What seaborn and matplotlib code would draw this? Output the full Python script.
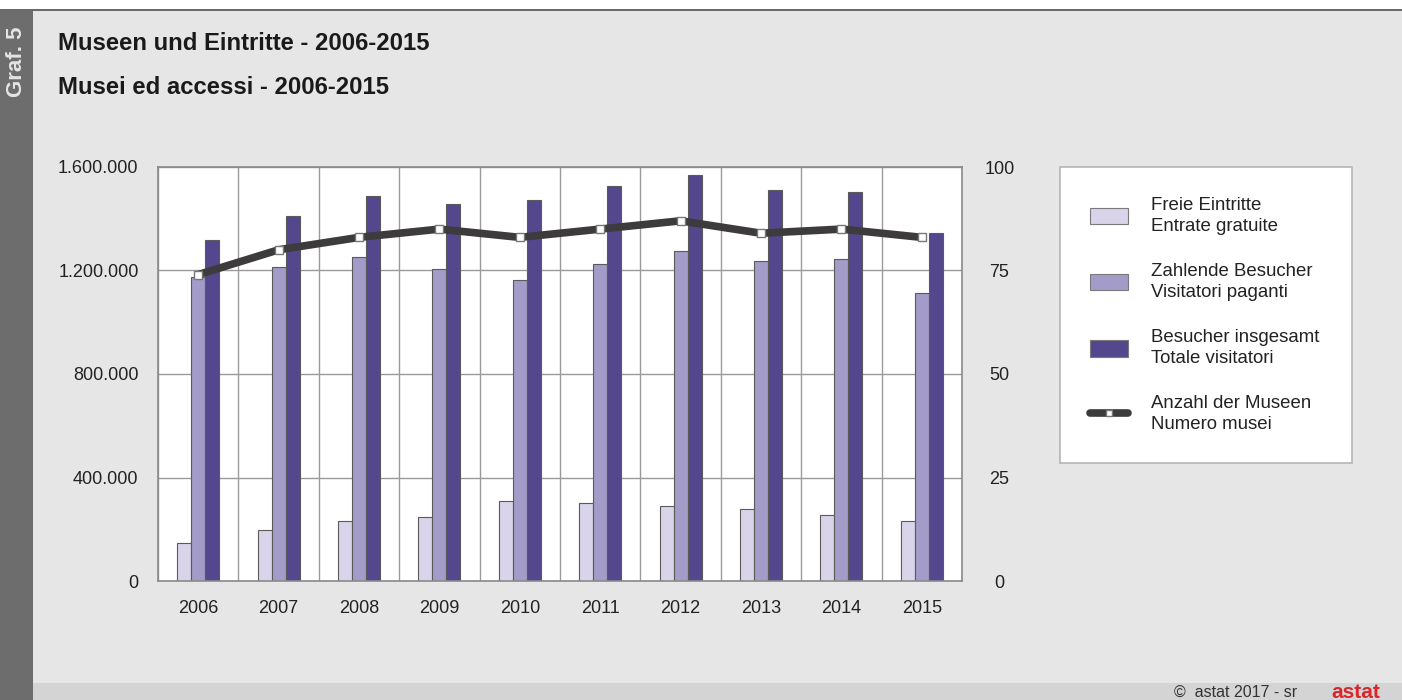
import numpy as np
import pandas as pd
import matplotlib.pyplot as plt
import matplotlib.ticker as mticker
from matplotlib.patches import Rectangle, Patch
from matplotlib.lines import Line2D
import seaborn as sns

# ──────────────────────────────────────────────
# DATA (Graf. 5)
# ──────────────────────────────────────────────
years = ["2006", "2007", "2008", "2009", "2010",
         "2011", "2012", "2013", "2014", "2015"]
free_entries = [146000, 197000, 233000, 246000, 310000,
                300000, 290000, 277000, 256000, 233000]
paying_visitors = [1174000, 1212000, 1254000, 1207000, 1163000,
                   1224000, 1277000, 1236000, 1245000, 1112000]
total_visitors = [1318000, 1412000, 1488000, 1457000, 1474000,
                  1525000, 1568000, 1512000, 1502000, 1344000]
museums = [74, 80, 83, 85, 83, 85, 87, 84, 85, 83]

series_labels = ["Freie Eintritte\nEntrate gratuite",
                 "Zahlende Besucher\nVisitatori paganti",
                 "Besucher insgesamt\nTotale visitatori"]
line_label = "Anzahl der Museen\nNumero musei"

left_ticks = [0, 400000, 800000, 1200000, 1600000]
right_ticks = [0, 25, 50, 75, 100]

BAR_COLORS = ["#d9d4ea", "#a39bc8", "#54478e"]
LINE_COLOR = "#3d3b3b"
BG = "#e6e6e6"

# long-form table for seaborn
df = pd.DataFrame({
    "year": years * 3,
    "series": sum([[s] * len(years) for s in series_labels], []),
    "value": free_entries + paying_visitors + total_visitors,
})

# ──────────────────────────────────────────────
# STYLE
# ──────────────────────────────────────────────
sns.set_theme(style="white")
plt.rcParams["font.family"] = ["Liberation Sans", "DejaVu Sans"]
plt.rcParams["text.color"] = "#222222"

fig = plt.figure(figsize=(14.02, 7.0), dpi=100, facecolor=BG)

# frame decorations: white top strip, dark left strip, bottom band
fig.patches.append(Rectangle((0, 1 - 9 / 700), 1, 9 / 700, transform=fig.transFigure,
                             facecolor="white", edgecolor="none", zorder=0))
fig.patches.append(Rectangle((0, 1 - 11 / 700), 1, 2 / 700, transform=fig.transFigure,
                             facecolor="#6a6a6a", edgecolor="none", zorder=0))
fig.patches.append(Rectangle((0, 0), 33 / 1402, 1 - 11 / 700, transform=fig.transFigure,
                             facecolor="#6d6d6d", edgecolor="none", zorder=0))
fig.patches.append(Rectangle((33 / 1402, 0), 1, 17 / 700, transform=fig.transFigure,
                             facecolor="#d4d4d4", edgecolor="none", zorder=0))

fig.text(17 / 1402, 1 - 62 / 700, "Graf. 5", rotation=90, ha="center", va="center",
         fontsize=16, fontweight="bold", color="#e4e4e4")
fig.text(58 / 1402, 1 - 43 / 700, "Museen und Eintritte - 2006-2015",
         ha="left", va="center", fontsize=17.2, fontweight="bold", color="#1a1a1a")
fig.text(58 / 1402, 1 - 88 / 700, "Musei ed accessi - 2006-2015",
         ha="left", va="center", fontsize=17.2, fontweight="bold", color="#1a1a1a")

# ──────────────────────────────────────────────
# BARS
# ──────────────────────────────────────────────
ax = fig.add_axes([158 / 1402, 119 / 700, 804 / 1402, 414 / 700])
ax.set_facecolor("white")

sns.barplot(
    data=df, x="year", y="value", hue="series",
    hue_order=series_labels, order=years,
    palette=BAR_COLORS, saturation=1, width=0.52, gap=0,
    edgecolor="#5a5a5a", linewidth=0.8,
    legend=False, ax=ax,
)

ax.set_xlim(-0.5, len(years) - 0.5)
ax.set_ylim(0, 1600000)
ax.set_yticks(left_ticks)
ax.yaxis.set_major_formatter(
    mticker.FuncFormatter(lambda v, _: f"{int(v):,}".replace(",", "."))
)
ax.set_xticks(range(len(years)))
ax.set_xticklabels(years)
ax.xaxis.set_minor_locator(mticker.FixedLocator(np.arange(-0.5, len(years), 1.0)))
ax.grid(True, axis="y", which="major", color="#9a9a9a", linewidth=1)
ax.grid(True, axis="x", which="minor", color="#9a9a9a", linewidth=1)
ax.set_axisbelow(True)
ax.set_xlabel("")
ax.set_ylabel("")
ax.tick_params(axis="both", which="both", length=0, labelsize=13, colors="#222222")
ax.tick_params(axis="y", pad=14)
ax.tick_params(axis="x", pad=14)
for sp in ax.spines.values():
    sp.set_color("#8a8a8a")
    sp.set_linewidth(1.2)

# ──────────────────────────────────────────────
# LINE — number of museums (right axis)
# ──────────────────────────────────────────────
ax2 = ax.twinx()
ax2.plot(np.arange(len(years)), museums, color=LINE_COLOR, linewidth=5.5,
         marker="s", markersize=6, markerfacecolor="white",
         markeredgecolor="#777777", markeredgewidth=1, solid_capstyle="butt")
ax2.set_ylim(0, 100)
ax2.set_yticks(right_ticks)
ax2.grid(False)
ax2.tick_params(axis="y", length=0, labelsize=13, colors="#222222", pad=27)
for lbl in ax2.get_yticklabels():
    lbl.set_horizontalalignment("center")
for sp in ax2.spines.values():
    sp.set_visible(False)

# ──────────────────────────────────────────────
# LEGEND
# ──────────────────────────────────────────────
handles = [Patch(facecolor=c, edgecolor="#7a7a7a", linewidth=0.8) for c in BAR_COLORS]
handles.append(Line2D([0], [0], color=LINE_COLOR, linewidth=5.5, marker="s",
                      markersize=5, markerfacecolor="white", markeredgecolor="#777777"))
leg = fig.legend(
    handles, series_labels + [line_label],
    loc="upper left",
    bbox_to_anchor=(1060 / 1402, 1 - 167 / 700, 292 / 1402, 0),
    mode="expand", fontsize=13.4, frameon=True, fancybox=False,
    facecolor="white", edgecolor="#b5b5b5", framealpha=1,
    handlelength=2.05, handleheight=1.0, handletextpad=1.24,
    labelspacing=1.52, borderpad=1.6, borderaxespad=0,
)
leg.get_frame().set_linewidth(1.2)
for t in leg.get_texts():
    t.set_linespacing(1.3)

# ──────────────────────────────────────────────
# FOOTER
# ──────────────────────────────────────────────
fig.text(1297 / 1402, 8 / 700, "\u00a9  astat 2017 - sr", ha="right", va="center",
         fontsize=11.5, color="#333333")
fig.text(1356 / 1402, 8 / 700, "astat", ha="center", va="center",
         fontsize=15, fontweight="bold", color="#d9262b")

fig.savefig("out.png", dpi=100, facecolor=BG)
